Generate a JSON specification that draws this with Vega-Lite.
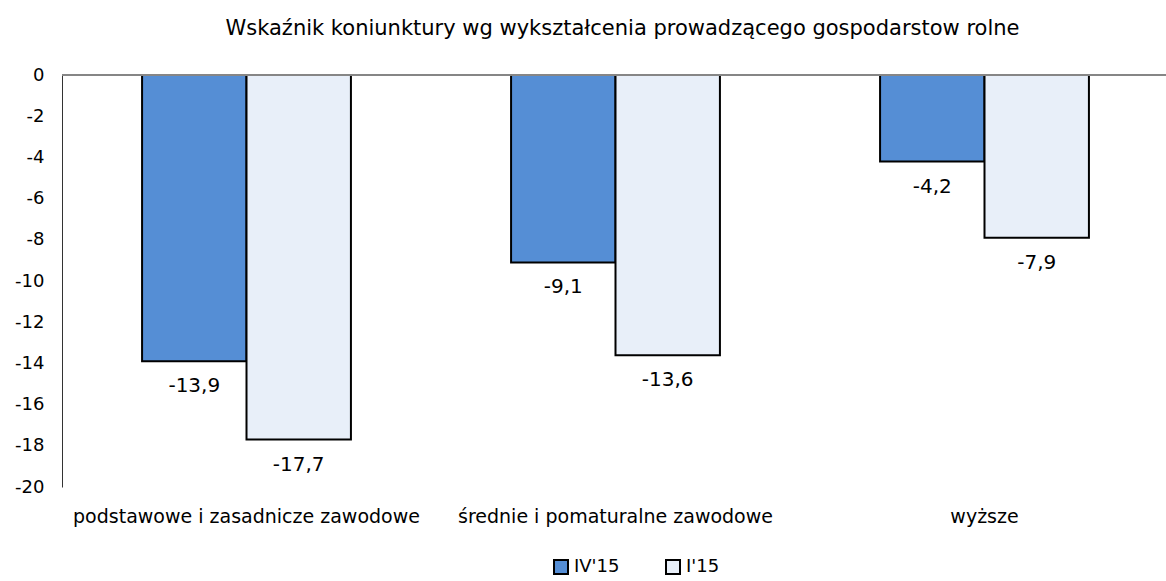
{
  "$schema": "https://vega.github.io/schema/vega-lite/v6.json",
  "autosize": "none",
  "padding": {"left": 62, "top": 75, "right": 0, "bottom": 94},
  "width": 1107,
  "height": 412,
  "background": "white",
  "title": {
    "text": "Wskaźnik koniunktury wg wykształcenia prowadzącego gospodarstow rolne",
    "fontSize": 21,
    "font": "DejaVu Sans",
    "fontWeight": "normal",
    "color": "black",
    "anchor": "middle",
    "offset": 27,
    "dx": 7
  },
  "data": {
    "values": [
      {"kategoria": "podstawowe i zasadnicze zawodowe", "okres": "IV'15", "wartosc": -13.9},
      {"kategoria": "podstawowe i zasadnicze zawodowe", "okres": "I'15", "wartosc": -17.7},
      {"kategoria": "średnie i pomaturalne zawodowe", "okres": "IV'15", "wartosc": -9.1},
      {"kategoria": "średnie i pomaturalne zawodowe", "okres": "I'15", "wartosc": -13.6},
      {"kategoria": "wyższe", "okres": "IV'15", "wartosc": -4.2},
      {"kategoria": "wyższe", "okres": "I'15", "wartosc": -7.9}
    ]
  },
  "encoding": {
    "x": {
      "field": "kategoria",
      "type": "nominal",
      "sort": null,
      "scale": {"paddingInner": 0.434, "paddingOuter": 0.217},
      "axis": {
        "title": null,
        "orient": "bottom",
        "domain": false,
        "ticks": false,
        "labelAngle": 0,
        "labelFontSize": 19,
        "labelFont": "DejaVu Sans",
        "labelColor": "black",
        "labelPadding": 20,
        "labelLimit": 500
      }
    }
  },
  "layer": [
    {
      "mark": {"type": "bar", "stroke": "black", "strokeWidth": 2},
      "encoding": {
        "xOffset": {"field": "okres", "type": "nominal", "sort": ["IV'15", "I'15"], "scale": {"paddingInner": 0}},
        "y": {
          "field": "wartosc",
          "type": "quantitative",
          "scale": {"domain": [-20, 0], "nice": false},
          "axis": {
            "title": null,
            "values": [0, -2, -4, -6, -8, -10, -12, -14, -16, -18, -20],
            "format": "d",
            "grid": false,
            "ticks": false,
            "domain": true,
            "domainColor": "#333333",
            "domainWidth": 1,
            "labelFontSize": 18,
            "labelFont": "DejaVu Sans",
            "labelColor": "black",
            "labelPadding": 18
          }
        },
        "fill": {
          "field": "okres",
          "type": "nominal",
          "sort": ["IV'15", "I'15"],
          "scale": {"domain": ["IV'15", "I'15"], "range": ["#558ED5", "#e8eff9"]},
          "legend": {
            "title": null,
            "orient": "none",
            "legendX": 490,
            "legendY": 483,
            "direction": "horizontal",
            "padding": 0,
            "symbolType": "square",
            "symbolSize": 196,
            "symbolStrokeColor": "black",
            "symbolStrokeWidth": 2,
            "labelFontSize": 18,
            "labelFont": "DejaVu Sans",
            "labelColor": "black",
            "labelOffset": 4,
            "columnPadding": 42
          }
        }
      }
    },
    {
      "mark": {"type": "rule", "color": "#868686", "strokeWidth": 2},
      "data": {"values": [{"zero": 0}]},
      "encoding": {
        "x": {"value": 0},
        "x2": {"value": 1107},
        "y": {"field": "zero", "type": "quantitative"}
      }
    },
    {
      "mark": {"type": "text", "baseline": "middle", "dy": 25, "fontSize": 20, "font": "DejaVu Sans", "color": "black"},
      "encoding": {
        "xOffset": {"field": "okres", "type": "nominal", "sort": ["IV'15", "I'15"], "scale": {"paddingInner": 0}},
        "y": {"field": "wartosc", "type": "quantitative"},
        "text": {"field": "wartosc", "type": "quantitative", "format": ".1f"}
      }
    }
  ],
  "config": {
    "view": {"stroke": null},
    "locale": {
      "number": {"decimal": ",", "thousands": " ", "grouping": [3], "currency": ["", " zł"], "minus": "-"}
    }
  }
}
